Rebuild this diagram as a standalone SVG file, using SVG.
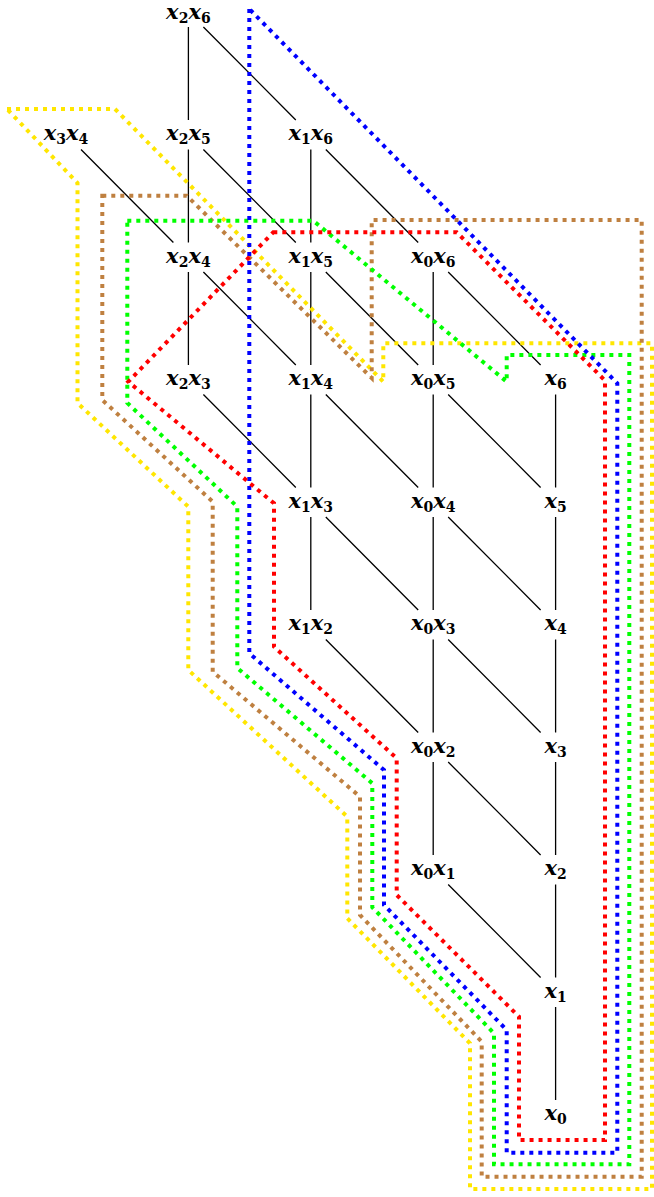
<svg xmlns="http://www.w3.org/2000/svg" width="654" height="1197" viewBox="0 0 654 1197">
<style>
.e{stroke:#000;stroke-width:1.3;fill:none}
.p{fill:none;stroke-width:4;stroke-dasharray:4 5;stroke-linejoin:miter}
.t{font-family:"DejaVu Serif","Liberation Serif",serif;font-weight:bold;font-style:italic;font-size:21px;fill:#000;text-anchor:middle}
.s{font-size:14px;font-style:normal}
</style>
<rect width="654" height="1197" fill="#fff"/>
<g id="connectors" class="e">
<path d="M188.4,27V120M188.4,149.5V242.5M188.4,272V365"/>
<path d="M310.8,149.5V242.5M310.8,272V365M310.8,394.5V487.5M310.8,517V610"/>
<path d="M433.2,272V365M433.2,394.5V487.5M433.2,517V610M433.2,639.5V732.5M433.2,762V855"/>
<path d="M555.6,394.5V487.5M555.6,517V610M555.6,639.5V732.5M555.6,762V855M555.6,884.5V977.5M555.6,1007V1100"/>
<path d="M203.4,27L295.8,120M81,149.5L173.4,242.5M203.4,149.5L295.8,242.5M325.8,149.5L418.2,242.5"/>
<path d="M203.4,272L295.8,365M325.8,272L418.2,365M448.2,272L540.6,365"/>
<path d="M203.4,394.5L295.8,487.5M325.8,394.5L418.2,487.5M448.2,394.5L540.6,487.5"/>
<path d="M325.8,517L418.2,610M448.2,517L540.6,610M325.8,639.5L418.2,732.5M448.2,639.5L540.6,732.5"/>
<path d="M448.2,762L540.6,855M448.2,884.5L540.6,977.5"/>
</g>
<g id="regions">
<path id="yellow" class="p" stroke="#FFE600" d="M7,109L115,109L383.3,381.7L383.3,343.3L652,343.3L652,1189L470,1189L470,1043.3L347.3,918.3L347.3,816.7L188.3,670L188.3,506.7L77.5,403L77.5,183Z"/>
<path id="brown" class="p" stroke="#BF8040" d="M102.3,195.7L186.7,195.7L371.7,378L371.7,220L641.7,220L641.7,1176.7L481.7,1176.7L481.7,1041.7L360,915L360,796.7L212.7,671.7L212.7,501.7L102.3,400Z"/>
<path id="green" class="p" stroke="#00FF00" d="M127.3,220.7L313.3,220.7L506.7,381.7L506.7,355L629.3,355L629.3,1164.3L494,1164.3L494,1033.3L372.3,907.3L372.3,783.3L237.3,668L237.3,506.7L127.3,403Z"/>
<path id="blue" class="p" stroke="#0000FF" d="M249.3,9L249.3,653.3L384,770L384,905L506.7,1030L506.7,1152.7L617.3,1152.7L617.3,383.3Z"/>
<path id="red" class="p" stroke="#FF0000" d="M273.3,232.3L456.7,232.3L605,380.5L605,1140L519,1140L519,1016.7L396.7,895L396.7,758.3L274,646.7L274,503.3L128.3,381.7Z"/>
</g>
<g id="n-x2x6"><text class="t" x="188.4" y="19">x<tspan class="s" dy="4">2</tspan><tspan dy="-4">x</tspan><tspan class="s" dy="4">6</tspan></text></g>
<g id="n-x3x4"><text class="t" x="66" y="140">x<tspan class="s" dy="4">3</tspan><tspan dy="-4">x</tspan><tspan class="s" dy="4">4</tspan></text></g>
<g id="n-x2x5"><text class="t" x="188.4" y="140">x<tspan class="s" dy="4">2</tspan><tspan dy="-4">x</tspan><tspan class="s" dy="4">5</tspan></text></g>
<g id="n-x1x6"><text class="t" x="310.8" y="140">x<tspan class="s" dy="4">1</tspan><tspan dy="-4">x</tspan><tspan class="s" dy="4">6</tspan></text></g>
<g id="n-x2x4"><text class="t" x="188.4" y="262.5">x<tspan class="s" dy="4">2</tspan><tspan dy="-4">x</tspan><tspan class="s" dy="4">4</tspan></text></g>
<g id="n-x1x5"><text class="t" x="310.8" y="262.5">x<tspan class="s" dy="4">1</tspan><tspan dy="-4">x</tspan><tspan class="s" dy="4">5</tspan></text></g>
<g id="n-x0x6"><text class="t" x="433.2" y="262.5">x<tspan class="s" dy="4">0</tspan><tspan dy="-4">x</tspan><tspan class="s" dy="4">6</tspan></text></g>
<g id="n-x2x3"><text class="t" x="188.4" y="385">x<tspan class="s" dy="4">2</tspan><tspan dy="-4">x</tspan><tspan class="s" dy="4">3</tspan></text></g>
<g id="n-x1x4"><text class="t" x="310.8" y="385">x<tspan class="s" dy="4">1</tspan><tspan dy="-4">x</tspan><tspan class="s" dy="4">4</tspan></text></g>
<g id="n-x0x5"><text class="t" x="433.2" y="385">x<tspan class="s" dy="4">0</tspan><tspan dy="-4">x</tspan><tspan class="s" dy="4">5</tspan></text></g>
<g id="n-x6"><text class="t" x="555.6" y="385">x<tspan class="s" dy="4">6</tspan></text></g>
<g id="n-x1x3"><text class="t" x="310.8" y="507.5">x<tspan class="s" dy="4">1</tspan><tspan dy="-4">x</tspan><tspan class="s" dy="4">3</tspan></text></g>
<g id="n-x0x4"><text class="t" x="433.2" y="507.5">x<tspan class="s" dy="4">0</tspan><tspan dy="-4">x</tspan><tspan class="s" dy="4">4</tspan></text></g>
<g id="n-x5"><text class="t" x="555.6" y="507.5">x<tspan class="s" dy="4">5</tspan></text></g>
<g id="n-x1x2"><text class="t" x="310.8" y="630">x<tspan class="s" dy="4">1</tspan><tspan dy="-4">x</tspan><tspan class="s" dy="4">2</tspan></text></g>
<g id="n-x0x3"><text class="t" x="433.2" y="630">x<tspan class="s" dy="4">0</tspan><tspan dy="-4">x</tspan><tspan class="s" dy="4">3</tspan></text></g>
<g id="n-x4"><text class="t" x="555.6" y="630">x<tspan class="s" dy="4">4</tspan></text></g>
<g id="n-x0x2"><text class="t" x="433.2" y="752.5">x<tspan class="s" dy="4">0</tspan><tspan dy="-4">x</tspan><tspan class="s" dy="4">2</tspan></text></g>
<g id="n-x3"><text class="t" x="555.6" y="752.5">x<tspan class="s" dy="4">3</tspan></text></g>
<g id="n-x0x1"><text class="t" x="433.2" y="875">x<tspan class="s" dy="4">0</tspan><tspan dy="-4">x</tspan><tspan class="s" dy="4">1</tspan></text></g>
<g id="n-x2"><text class="t" x="555.6" y="875">x<tspan class="s" dy="4">2</tspan></text></g>
<g id="n-x1"><text class="t" x="555.6" y="997.5">x<tspan class="s" dy="4">1</tspan></text></g>
<g id="n-x0"><text class="t" x="555.6" y="1120">x<tspan class="s" dy="4">0</tspan></text></g>
</svg>
